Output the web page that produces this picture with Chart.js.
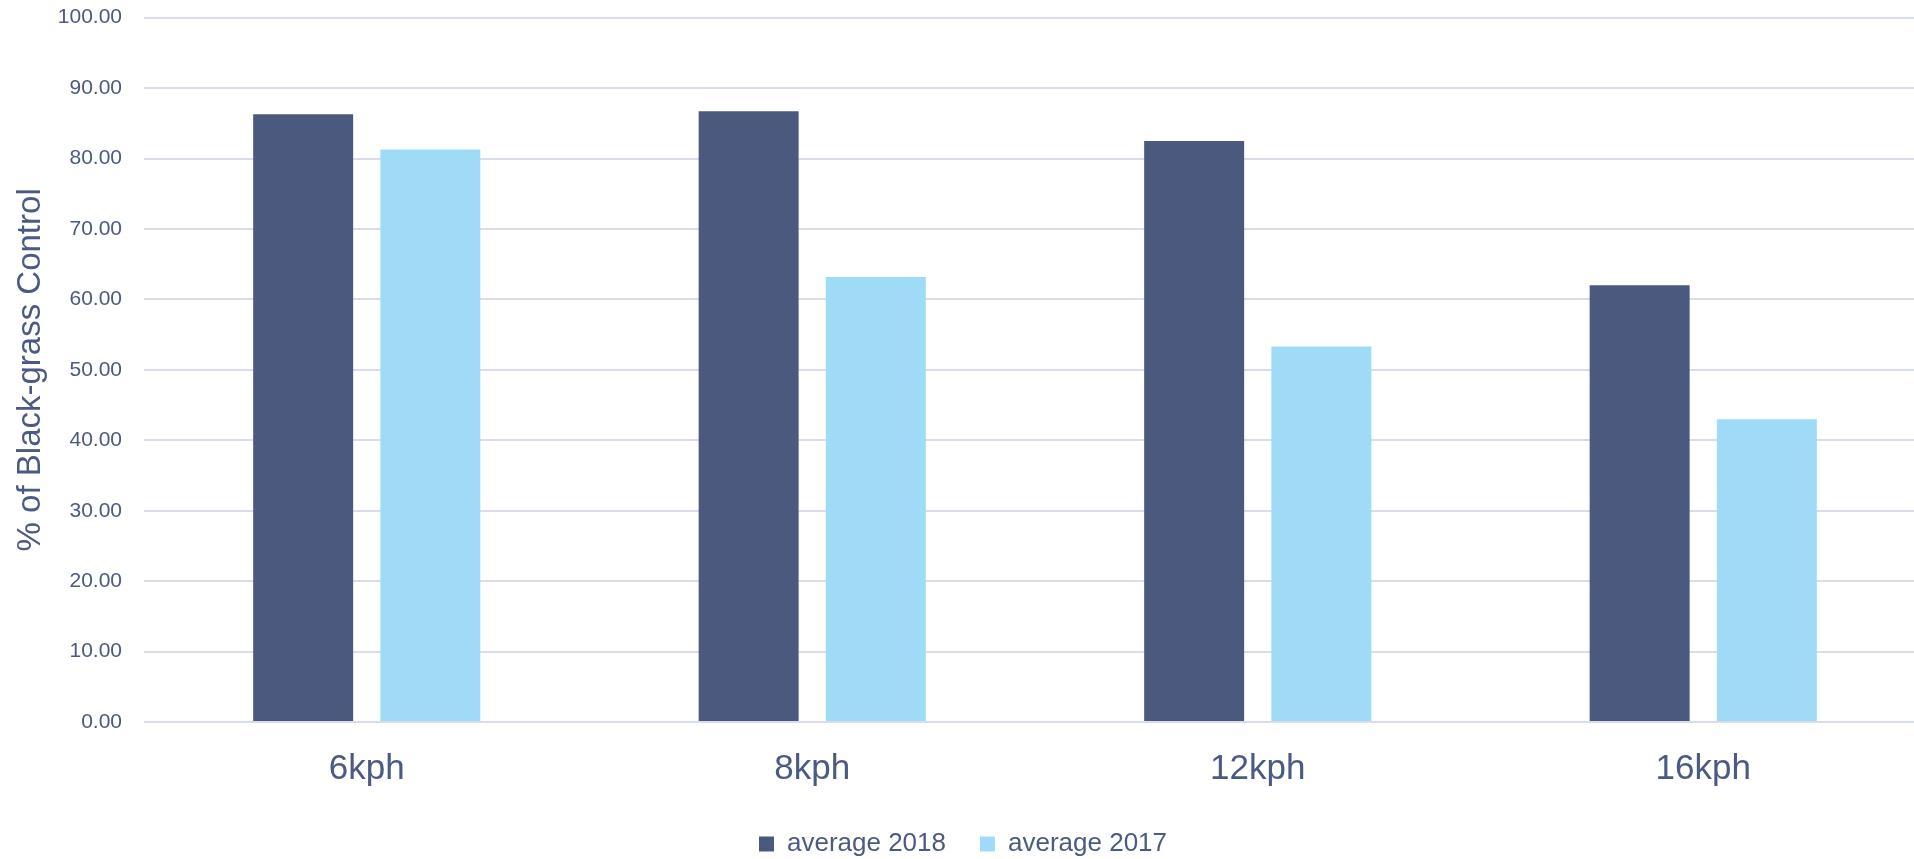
<!DOCTYPE html>
<html>
<head>
<meta charset="utf-8">
<title>Black-grass control by forward speed</title>
<script src="https://cdn.jsdelivr.net/npm/chart.js@4/dist/chart.umd.min.js"></script>
<style>
    html, body { margin: 0; padding: 0; background: #ffffff; overflow: hidden; }
    #wrap { position: relative; width: 1926px; height: 867px; }
</style>
</head>
<body>
<div id="wrap"><canvas id="controlChart" width="1926" height="867"></canvas></div>
<script>
// Speeds and average control for each season
const speeds = ['6kph', '8kph', '12kph', '16kph'];
const average2018 = [86.3, 86.7, 82.5, 62.0];
const average2017 = [81.3, 63.2, 53.3, 43.0];
const yTicks = [0, 10, 20, 30, 40, 50, 60, 70, 80, 90, 100];

const textColor = '#4b5a82';
const gridColor = '#d9dcea';
const labelFont = '"Liberation Sans", Arial, sans-serif';

document.addEventListener('DOMContentLoaded', function() {
    const ctx = document.getElementById('controlChart').getContext('2d');

    new Chart(ctx, {
        type: 'bar',
        data: {
            labels: speeds,
            datasets: [{
                label: 'average 2018',
                data: average2018,
                backgroundColor: '#4a597d'
            }, {
                label: 'average 2017',
                data: average2017,
                backgroundColor: '#9fdbf6'
            }]
        },
        options: {
            responsive: false,
            animation: false,
            categoryPercentage: 0.571,
            barPercentage: 0.786,
            layout: {
                padding: { top: 17.7, left: 0, right: 0, bottom: 0 }
            },
            plugins: {
                tooltip: { enabled: false },
                legend: {
                    position: 'bottom',
                    labels: {
                        color: textColor,
                        boxWidth: 15,
                        boxHeight: 15,
                        padding: 34,
                        font: { family: labelFont, size: 26 }
                    }
                }
            },
            scales: {
                x: {
                    grid: { display: false },
                    border: { display: false },
                    ticks: {
                        color: textColor,
                        padding: 18,
                        font: { family: labelFont, size: 35 }
                    },
                    afterFit: function(scale) { scale.height = 75; }
                },
                y: {
                    min: 0,
                    max: 100,
                    afterBuildTicks: function(scale) {
                        scale.ticks = yTicks.map(v => ({ value: v }));
                    },
                    grid: {
                        color: gridColor,
                        lineWidth: 2,
                        drawTicks: false
                    },
                    border: { display: false },
                    ticks: {
                        color: textColor,
                        padding: 22,
                        font: { family: labelFont, size: 21 },
                        callback: function(value) { return Number(value).toFixed(2); }
                    },
                    title: {
                        display: true,
                        text: '% of Black-grass Control',
                        color: textColor,
                        padding: { top: 11, bottom: 0 },
                        font: { family: labelFont, size: 33, weight: 'normal' }
                    },
                    // fixed axis width; the plot top is set by the layout padding
                    afterFit: function(scale) {
                        scale.width = 144;
                        scale.paddingTop = 0;
                        scale.paddingBottom = 0;
                    }
                }
            }
        }
    });
});
</script>
</body>
</html>
